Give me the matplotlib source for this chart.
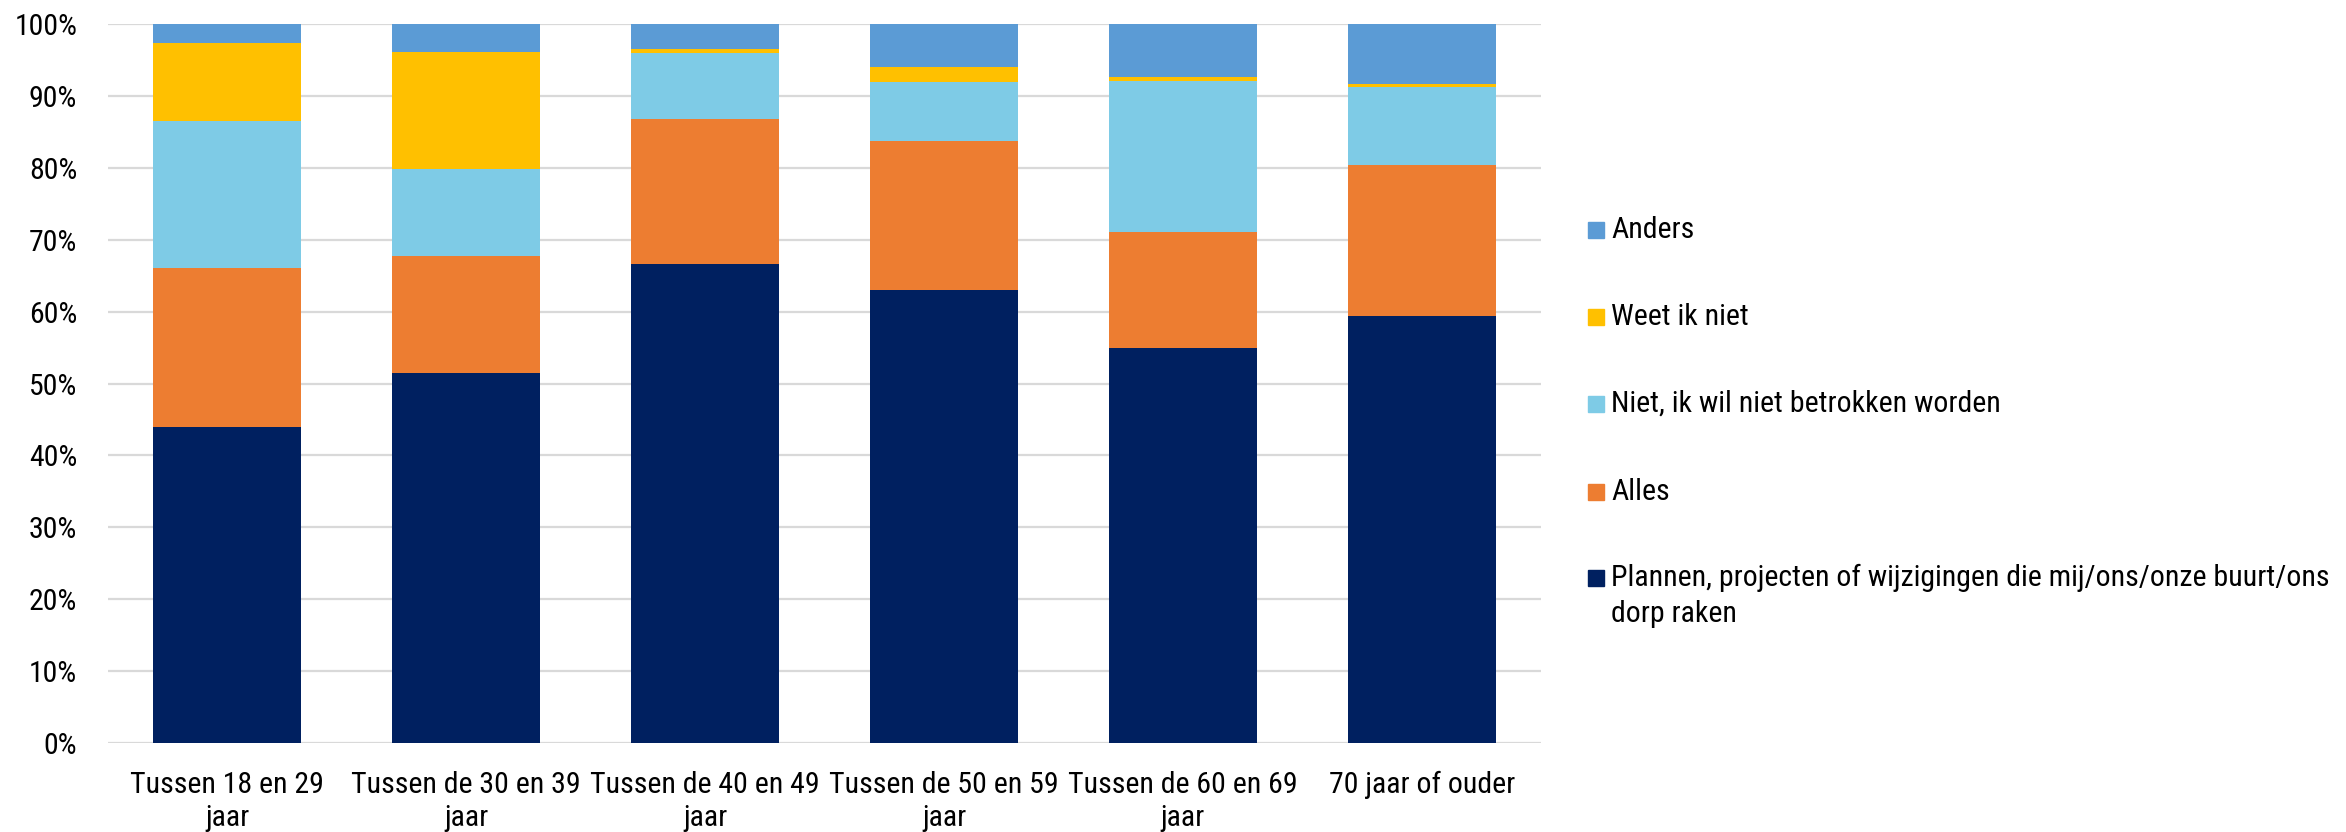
import matplotlib.pyplot as plt
from matplotlib.patches import Rectangle
from matplotlib.ticker import PercentFormatter
from matplotlib import font_manager
import numpy as np

# pick the narrowest installed sans (reference uses Calibri)
names = {f.name for f in font_manager.fontManager.ttflist}
for fam in ['Roboto Condensed', 'Liberation Sans Narrow', 'Open Sans Condensed', 'Liberation Sans']:
    if fam in names:
        break
plt.rcParams['font.family'] = [fam, 'DejaVu Sans']
narrow = fam != 'Liberation Sans'
fs = 21.5 if narrow else 17

# Age groups (x axis)
categories = ['Tussen 18 en 29\njaar', 'Tussen de 30 en 39\njaar', 'Tussen de 40 en 49\njaar',
              'Tussen de 50 en 59\njaar', 'Tussen de 60 en 69\njaar', '70 jaar of ouder']

# Stacked shares in percent, bottom to top
plannen = [43.9, 51.5, 66.7, 63.0, 54.9, 59.4]
alles = [22.2, 16.2, 20.1, 20.7, 16.2, 21.0]
niet = [20.4, 12.2, 9.2, 8.2, 21.0, 10.8]
weet_niet = [10.9, 16.2, 0.6, 2.2, 0.5, 0.5]
anders = [2.6, 3.9, 3.4, 6.0, 7.4, 8.3]

series = [plannen, alles, niet, weet_niet, anders]
labels = ['Plannen, projecten of wijzigingen die mij/ons/onze buurt/ons\ndorp raken',
          'Alles', 'Niet, ik wil niet betrokken worden', 'Weet ik niet', 'Anders']
colors = ['#002060', '#ED7D31', '#7ECBE6', '#FFC000', '#5B9BD5']

fig = plt.figure(figsize=(23.46, 8.32), dpi=100)
ax = fig.add_axes([0.046, 0.107, 0.611, 0.864])

x = np.arange(len(categories))
bottom = np.zeros(len(categories))
for vals, col, lab in zip(series, colors, labels):
    ax.bar(x, vals, bottom=bottom, width=0.62, color=col, label=lab, zorder=3)
    bottom += np.array(vals)

ax.set_xlim(-0.5, len(categories) - 0.5)
ax.set_ylim(0, 100)
ax.set_yticks(np.arange(0, 101, 10))
ax.yaxis.set_major_formatter(PercentFormatter(decimals=0))
ax.set_xticks(x)
ax.set_xticklabels(categories, fontsize=fs, linespacing=1.25)
ax.tick_params(axis='y', labelsize=fs, length=0, pad=22)
ax.tick_params(axis='x', length=0, pad=20)
ax.grid(axis='y', color='#D9D9D9', linewidth=1.6, zorder=0)
for s in ax.spines.values():
    s.set_visible(False)

# Legend, drawn on the figure (top entry first)
leg_y = [230, 317, 404, 492, 578]
W, H = 2346.0, 832.0
for yy, col, lab in zip(leg_y, colors[::-1], labels[::-1]):
    fig.patches.append(Rectangle((1588 / W, 1 - (yy + 8) / H), 16 / W, 16 / H,
                                 transform=fig.transFigure, color=col))
    fig.text(1611 / W, 1 - yy / H, lab.split('\n')[0], fontsize=fs, va='center', ha='left')
    if '\n' in lab:
        fig.text(1611 / W, 1 - (yy + 36) / H, lab.split('\n')[1], fontsize=fs,
                 va='center', ha='left')

fig.savefig('out.png', dpi=100)
